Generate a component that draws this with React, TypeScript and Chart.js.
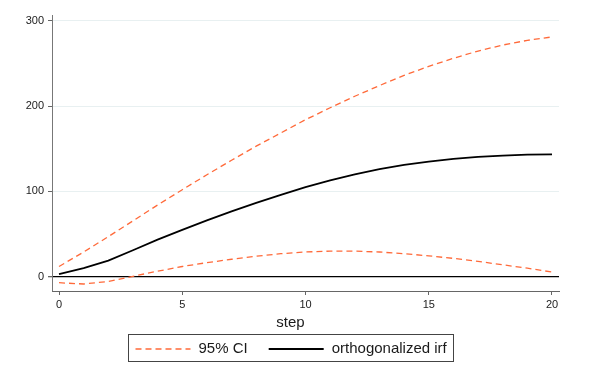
import React, { useEffect, useRef } from "react";
import { Chart, registerables } from "chart.js";

Chart.register(...registerables);

const steps = [0, 1, 2, 3, 4, 5, 6, 7, 8, 9, 10, 11, 12, 13, 14, 15, 16, 17, 18, 19, 20];
const upperCI = [12, 29, 47, 65.5, 84, 102, 119.5, 136.5, 153, 168.5, 184, 198, 211.5, 224, 236, 246.5, 256, 264.5, 271.5, 277, 281];
const irf = [3, 10, 19, 31, 43.5, 55, 66, 76.5, 86.5, 96, 105, 113, 120, 126, 131, 135, 138, 140.5, 142, 143, 143.5];
const lowerCI = [-7, -8.5, -5.5, 0.5, 6.5, 12, 16.5, 20.5, 24, 27, 29, 30, 30, 29, 27, 24.5, 21.5, 18, 14, 10, 5.5];
const xTickValues = [0, 5, 10, 15, 20];
const yTickValues = [0, 100, 200, 300];
const ciLabel = "95% CI";
const irfLabel = "orthogonalized irf";
const xTitle = "step";

const FONT = '"Liberation Sans", Arial, Helvetica, sans-serif';
const ORANGE = "#ff6a3a";

const decorPlugin = {
  id: "stataDecor",
  afterDraw(chart: any) {
    const ctx = chart.ctx as CanvasRenderingContext2D;
    const cx = 290.5;
    ctx.save();
    ctx.font = `15px ${FONT}`;
    ctx.fillStyle = "#1a1a1a";
    ctx.textAlign = "center";
    ctx.textBaseline = "alphabetic";
    ctx.fillText(xTitle, cx, 327);

    // legend
    const sample = 55;
    const gapText = 8;
    const gapItem = 21;
    const pad = 7;
    const w1 = ctx.measureText(ciLabel).width;
    const w2 = ctx.measureText(irfLabel).width;
    const total = pad + sample + gapText + w1 + gapItem + sample + gapText + w2 + pad;
    const left = Math.round(cx - total / 2) + 0.5;
    const top = 334.5;
    const h = 27;
    const midY = top + h / 2 + 1;
    ctx.strokeStyle = "#444";
    ctx.lineWidth = 1;
    ctx.strokeRect(left, top, Math.round(total), h);

    let x = left + pad;
    ctx.beginPath();
    ctx.setLineDash([6, 4]);
    ctx.strokeStyle = ORANGE;
    ctx.lineWidth = 1.3;
    ctx.moveTo(x, midY);
    ctx.lineTo(x + sample, midY);
    ctx.stroke();
    ctx.setLineDash([]);
    x += sample + gapText;
    ctx.textAlign = "left";
    ctx.textBaseline = "middle";
    ctx.fillStyle = "#1a1a1a";
    ctx.fillText(ciLabel, x, midY);
    x += w1 + gapItem;
    ctx.beginPath();
    ctx.strokeStyle = "#000";
    ctx.lineWidth = 1.8;
    ctx.moveTo(x, midY);
    ctx.lineTo(x + sample, midY);
    ctx.stroke();
    x += sample + gapText;
    ctx.fillText(irfLabel, x, midY);
    ctx.restore();
  },
};

export default function App() {
  const canvasRef = useRef<HTMLCanvasElement | null>(null);

  useEffect(() => {
    if (!canvasRef.current) return;
    const toPts = (arr: number[]) => steps.map((s, i) => ({ x: s, y: arr[i] }));
    const chart = new Chart(canvasRef.current, {
      type: "line",
      data: {
        datasets: [
          {
            label: irfLabel,
            data: toPts(irf),
            borderColor: "#000",
            borderWidth: 1.8,
            pointRadius: 0,
            tension: 0,
            fill: false,
          },
          {
            label: ciLabel,
            data: toPts(upperCI),
            borderColor: ORANGE,
            borderWidth: 1.3,
            borderDash: [6, 4],
            pointRadius: 0,
            tension: 0,
            fill: false,
          },
          {
            label: ciLabel + " lower",
            data: toPts(lowerCI),
            borderColor: ORANGE,
            borderWidth: 1.3,
            borderDash: [6, 4],
            pointRadius: 0,
            tension: 0,
            fill: false,
          },
        ],
      },
      options: {
        animation: false,
        responsive: false,
        maintainAspectRatio: false,
        layout: { padding: { left: 0, right: 35, top: 15, bottom: 59 } },
        plugins: {
          legend: { display: false },
          tooltip: { enabled: false },
          title: { display: false },
        },
        scales: {
          x: {
            type: "linear",
            min: -0.284,
            max: 20.284,
            afterBuildTicks: (scale: any) => {
              scale.ticks = xTickValues.map((v) => ({ value: v }));
            },
            afterFit: (scale: any) => {
              scale.height = 30;
            },
            grid: {
              drawOnChartArea: false,
              drawTicks: true,
              tickLength: 4,
              tickColor: "#666",
            },
            border: { display: true, color: "#666", width: 1 },
            ticks: {
              padding: 3,
              color: "#222",
              font: { family: FONT, size: 11 },
              maxRotation: 0,
            },
          },
          y: {
            type: "linear",
            min: -16.7,
            max: 306.7,
            afterBuildTicks: (scale: any) => {
              scale.ticks = yTickValues.map((v) => ({ value: v }));
            },
            afterFit: (scale: any) => {
              scale.width = 52;
            },
            grid: {
              drawOnChartArea: true,
              drawTicks: true,
              tickLength: 4,
              tickColor: "#666",
              color: (c: any) => (c.tick && c.tick.value === 0 ? "#000" : "#e8f0f1"),
              lineWidth: (c: any) => (c.tick && c.tick.value === 0 ? 1.3 : 1),
            },
            border: { display: true, color: "#777", width: 1 },
            ticks: {
              padding: 4,
              color: "#222",
              font: { family: FONT, size: 11 },
            },
          },
        },
      },
      plugins: [decorPlugin],
    });
    return () => chart.destroy();
  }, []);

  return (
    <div style={{ position: "absolute", left: 0, top: 0, width: 594, height: 380, background: "#fff" }}>
      <canvas ref={canvasRef} width={594} height={380} style={{ display: "block" }} />
    </div>
  );
}
